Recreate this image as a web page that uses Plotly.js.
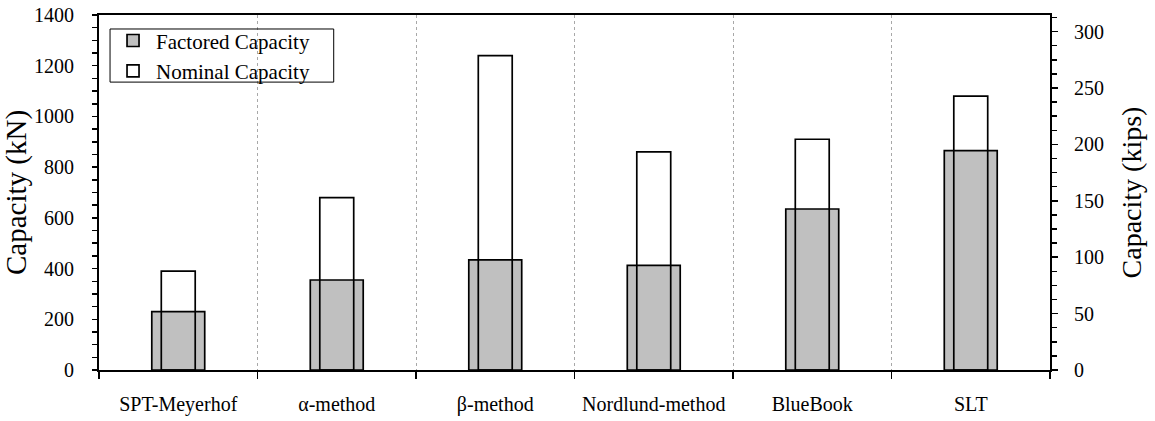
<!DOCTYPE html>
<html>
<head>
<meta charset="utf-8">
<script src="https://cdn.plot.ly/plotly-3.0.1.min.js"></script>
<style>html,body{margin:0;padding:0;background:#fff;}#chart{width:1155px;height:421px;}</style>
</head>
<body>
<div id="chart"></div>
<script>
const categories = ["SPT-Meyerhof", "α-method", "β-method", "Nordlund-method", "BlueBook", "SLT"];
const factoredCapacity = [230, 355, 434, 413, 635, 865];
const nominalCapacity = [390, 680, 1240, 860, 910, 1080];
const KN_PER_KIP = 4.448;
const yMaxKN = 1400;

const font = "Liberation Serif";

const traces = [
  {
    type: "bar", name: "Factored Capacity", x: categories, y: factoredCapacity,
    width: 0.334, marker: {color: "#c0c0c0", line: {color: "#000", width: 1.7}}
  },
  {
    type: "bar", name: "Nominal Capacity", x: categories, y: nominalCapacity,
    width: 0.214, marker: {color: "rgba(255,255,255,0)", line: {color: "#000", width: 1.7}}
  },
  {
    // same factored values expressed in kips, invisible: only anchors the right (kips) axis
    type: "scatter", mode: "markers", x: categories,
    y: factoredCapacity.map(v => v / KN_PER_KIP), yaxis: "y2",
    marker: {opacity: 0, size: 1}, showlegend: false, hoverinfo: "skip"
  }
];

const layout = {
  width: 1155, height: 421,
  margin: {l: 99, r: 105, t: 15, b: 51},
  paper_bgcolor: "#fff", plot_bgcolor: "#fff",
  barmode: "overlay",
  font: {family: font, size: 18, color: "#000"},
  showlegend: true,
  legend: {
    x: 0.0116, y: 0.985, xanchor: "left", yanchor: "top",
    borderwidth: 0, bgcolor: "rgba(255,255,255,0)",
    font: {family: font, size: 21, color: "#000"},
    tracegroupgap: 0, itemwidth: 36
  },
  shapes: [{
    // legend frame
    type: "rect", xref: "paper", yref: "paper",
    x0: 0.0116, x1: 0.2468, y0: 0.811, y1: 0.9606,
    line: {color: "#000", width: 1}, fillcolor: "rgba(0,0,0,0)", layer: "above"
  }],
  xaxis: {
    type: "category", tickson: "boundaries", tickangle: 0,
    showline: true, linecolor: "#000", linewidth: 2, mirror: true,
    ticks: "outside", ticklen: 7, tickwidth: 1.5, tickcolor: "#000",
    showgrid: true, gridcolor: "#a8a8a8", griddash: "dot", gridwidth: 1,
    tickfont: {family: font, size: 20, color: "#000"},
    ticklabelstandoff: 15,
    zeroline: false, fixedrange: true
  },
  yaxis: {
    range: [0, yMaxKN], dtick: 200, tick0: 0,
    showline: true, linecolor: "#000", linewidth: 2,
    ticks: "outside", ticklen: 5, tickwidth: 1.5, tickcolor: "#000",
    minor: {dtick: 50, ticks: "outside", ticklen: 5, tickwidth: 1.5, tickcolor: "#000", showgrid: false},
    showgrid: false, zeroline: false,
    tickfont: {family: font, size: 20, color: "#000"},
    ticklabelstandoff: 14,
    title: {text: "Capacity (kN)", font: {family: font, size: 29, color: "#000"}, standoff: 2},
    fixedrange: true
  },
  yaxis2: {
    overlaying: "y", side: "right", anchor: "x",
    range: [0, yMaxKN / KN_PER_KIP], dtick: 50, tick0: 0,
    showline: true, linecolor: "#000", linewidth: 2,
    ticks: "outside", ticklen: 6, tickwidth: 1.5, tickcolor: "#000",
    minor: {dtick: 12.5, ticks: "outside", ticklen: 5, tickwidth: 1.5, tickcolor: "#000", showgrid: false},
    showgrid: false, zeroline: false,
    tickfont: {family: font, size: 20, color: "#000"},
    ticklabelstandoff: 12,
    title: {text: "Capacity (kips)", font: {family: font, size: 28, color: "#000"}, standoff: 18},
    fixedrange: true
  }
};

Plotly.newPlot("chart", traces, layout, {displayModeBar: false, staticPlot: true});
</script>
</body>
</html>
